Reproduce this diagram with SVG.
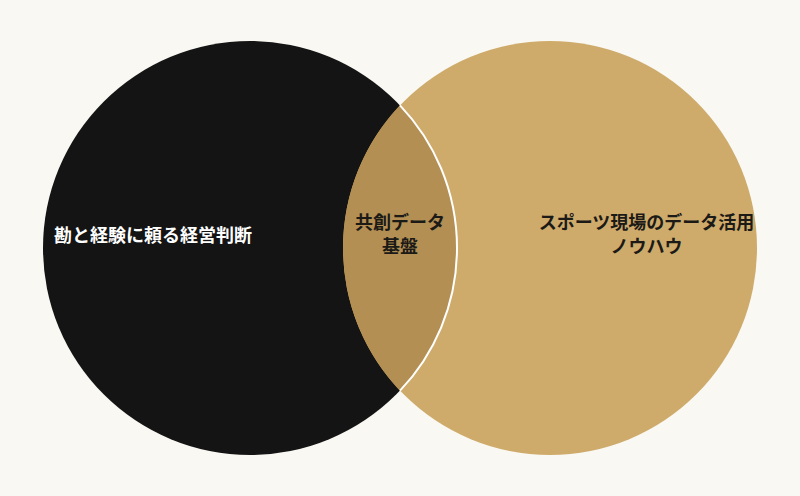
<svg xmlns="http://www.w3.org/2000/svg" width="800" height="496" viewBox="0 0 800 496">
<style>
.lbl{font-family:"Noto Sans CJK JP","Noto Sans",sans-serif;font-size:18px;font-weight:bold;text-anchor:middle}
.w{fill:#ffffff}
.d{fill:#1c1a17}
</style>
<rect width="800" height="496" fill="#f9f8f3"/>
<g id="left">
<circle cx="250" cy="248" r="207" fill="#141414"/>
<text class="lbl w" x="153" y="242">勘と経験に頼る経営判断</text>
</g>
<g id="right">
<circle cx="550" cy="248" r="207" fill="#cfab6b"/>
<text class="lbl d" x="646.5" y="229">スポーツ現場のデータ活用</text>
<text class="lbl d" x="646.5" y="253">ノウハウ</text>
</g>
<g id="overlap">
<path d="M400 105.35 A207 207 0 0 1 400 390.65 A207 207 0 0 1 400 105.35 Z" fill="#b38f53"/>
<text class="lbl d" x="400" y="229">共創データ</text>
<text class="lbl d" x="400" y="253">基盤</text>
</g>
<g id="connectors">
<path d="M400 105.35 A207 207 0 0 1 400 390.65" fill="none" stroke="#ffffff" stroke-width="2"/>
</g>
</svg>
